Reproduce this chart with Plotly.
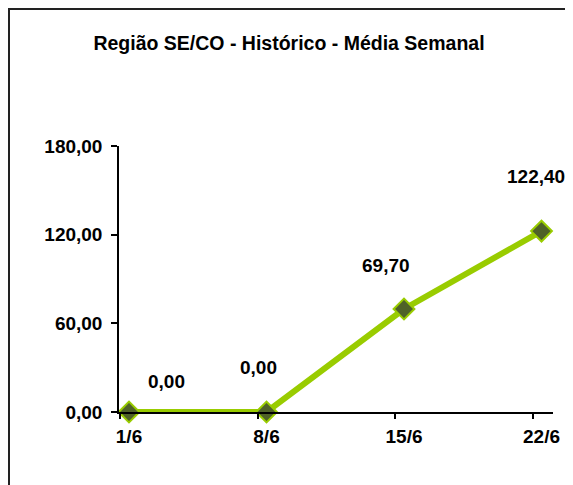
import plotly.graph_objects as go

categories = ["1/6", "8/6", "15/6", "22/6"]
values = [0.00, 0.00, 69.70, 122.40]
y_ticks = [0, 60, 120, 180]
title = "Região SE/CO - Histórico - Média Semanal"

# label offsets in pixels (x, y) relative to each point
label_shift = [(37, 31), (-8, 45), (-18, 44), (-6, 55)]

# the page adds an 8px body margin, so the figure is drawn 8px smaller
OFF = 8
W, H = 573 - OFF, 485 - OFF
L, R, T, B = 119 - OFF, 20, 146 - OFF, 73
pw, ph = W - L - R, H - T - B

xs = list(range(len(categories)))

fig = go.Figure()
fig.add_trace(go.Scatter(
    x=xs, y=values, mode="lines+markers",
    line=dict(color="#99CC00", width=6),
    marker=dict(symbol="diamond", size=16, color="#4F6228",
                line=dict(color="#99CC00", width=2)),
    cliponaxis=False, showlegend=False, hoverinfo="skip",
))

def fmt(v):
    return f"{v:.2f}".replace(".", ",")

lab_font = dict(family="Liberation Sans, Arial", size=19, color="black")
for x, v, (dx, dy) in zip(xs, values, label_shift):
    fig.add_annotation(x=x, y=v, text="<b>" + fmt(v) + "</b>", showarrow=False,
                       xshift=dx, yshift=dy, font=lab_font)

def px_to_paper_x(p):
    return (p - OFF - L) / pw

def px_to_paper_y(p):
    return (H - B - (p - OFF)) / ph

# page frame
fig.add_shape(type="rect", xref="paper", yref="paper",
              x0=px_to_paper_x(9), x1=px_to_paper_x(620),
              y0=px_to_paper_y(540), y1=px_to_paper_y(9),
              line=dict(color="#222222", width=2), fillcolor="rgba(0,0,0,0)")

font = dict(family="Liberation Sans, Arial", size=19, color="black")

fig.update_layout(
    width=W, height=H,
    margin=dict(l=L, r=R, t=T, b=B, pad=0),
    paper_bgcolor="white", plot_bgcolor="white",
    font=font,
    title=dict(text="<b>" + title + "</b>", x=(289 - OFF) / W, xanchor="center",
               y=1 - (43 - OFF) / H, yanchor="middle",
               font=dict(family="Liberation Sans, Arial", size=19.5, color="black")),
    xaxis=dict(
        range=[-0.0727, 3.0836],
        tickmode="array", tickvals=xs, ticktext=["<b>%s</b>" % c for c in categories],
        ticks="", showgrid=False, zeroline=False,
        showline=True, linecolor="black", linewidth=1.5,
        ticklabelstandoff=6,
        minor=dict(tickmode="array", tickvals=[x - 0.065 for x in xs],
                   ticks="outside", ticklen=5, tickcolor="black", tickwidth=1.5,
                   showgrid=False),
        tickfont=font,
    ),
    yaxis=dict(
        range=[0, 180],
        tickmode="array", tickvals=y_ticks,
        ticktext=["<b>%s</b>" % fmt(v) for v in y_ticks],
        ticks="outside", ticklen=6, tickcolor="black", tickwidth=1.5,
        showgrid=False, zeroline=False,
        showline=True, linecolor="black", linewidth=1.5,
        ticklabelstandoff=5,
        tickfont=font,
    ),
)

fig.write_html("out.html")
